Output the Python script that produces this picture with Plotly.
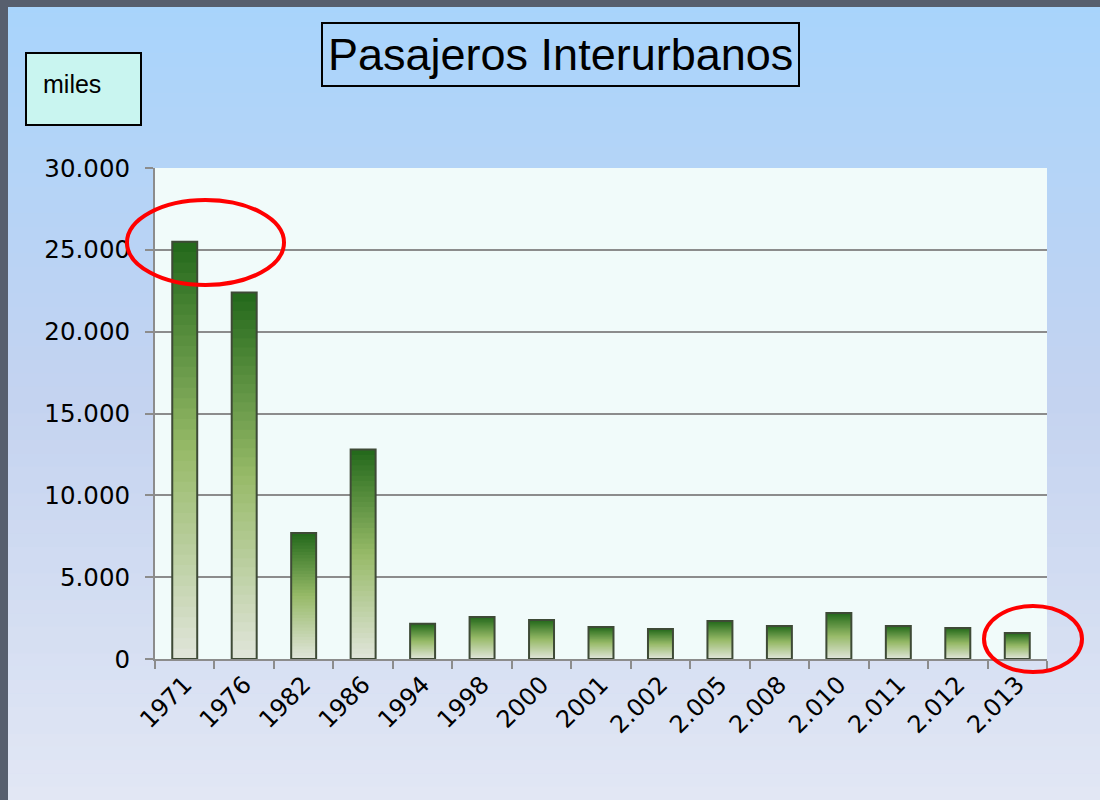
import plotly.graph_objects as go

years = ["1971", "1976", "1982", "1986", "1994", "1998", "2000", "2001",
         "2.002", "2.005", "2.008", "2.010", "2.011", "2.012", "2.013"]
passengers = [25500, 22400, 7700, 12800, 2150, 2570, 2380, 1960,
              1840, 2320, 2020, 2810, 2020, 1900, 1590]

title_text = "Pasajeros Interurbanos"
unit_text = "miles"


def lerp_hex(c1, c2, t):
    a = [int(c1[i:i + 2], 16) for i in (1, 3, 5)]
    b = [int(c2[i:i + 2], 16) for i in (1, 3, 5)]
    return "#" + "".join(f"{round(x + (y - x) * t):02x}" for x, y in zip(a, b))


def grad3(c_top, c_mid, c_bot, t):
    # t = 0 top, 1 bottom
    if t < 0.5:
        return lerp_hex(c_top, c_mid, t / 0.5)
    return lerp_hex(c_mid, c_bot, (t - 0.5) / 0.5)


fig = go.Figure()

# vertical gradient inside each bar: overlaid bars of decreasing fraction
# of each value (tallest drawn first), so no seams appear
N = 40
BAR_W = 0.42
for k in range(N):
    frac = (N - k) / N
    t = k / (N - 1)  # 0 = top colour, 1 = bottom colour
    col = grad3("#256a1c", "#97ba68", "#dfe4d8", t)
    fig.add_trace(go.Bar(
        x=years,
        y=[v * frac for v in passengers],
        width=BAR_W,
        marker=dict(color=col, line=dict(width=0)),
        showlegend=False, hoverinfo="skip",
    ))

# outline trace
fig.add_trace(go.Bar(
    x=years, y=passengers, width=BAR_W,
    marker=dict(color="rgba(0,0,0,0)", line=dict(color="#3e4a36", width=2)),
    showlegend=False,
))

L, R, T, B = 155, 53, 168, 141
PW, PH = 1100 - L - R, 800 - T - B


def px_x(p):
    return (p - L) / PW


def px_y(p):
    return (800 - B - p) / PH


shapes = []
# background gradient stripes
n_str = 60
for i in range(n_str):
    y0p = 800 * i / n_str
    y1p = 800 * (i + 1) / n_str + 0.5
    col = grad3("#a8d4fc", "#c4d3f0", "#e2e7f4", (i + 0.5) / n_str)
    shapes.append(dict(type="rect", xref="paper", yref="paper",
                       x0=px_x(-5), x1=px_x(1105), y0=px_y(y1p), y1=px_y(y0p),
                       fillcolor=col, line=dict(width=0), layer="below"))
# plot-area fill
shapes.append(dict(type="rect", xref="paper", yref="paper",
                   x0=0, x1=1, y0=0, y1=1,
                   fillcolor="#f1fbfa", line=dict(width=0), layer="below"))
# dark frame top/left
shapes.append(dict(type="rect", xref="paper", yref="paper",
                   x0=px_x(-5), x1=px_x(1105), y0=px_y(7), y1=px_y(-5),
                   fillcolor="#575f6e", line=dict(width=0), layer="below"))
shapes.append(dict(type="rect", xref="paper", yref="paper",
                   x0=px_x(-5), x1=px_x(8), y0=px_y(805), y1=px_y(-5),
                   fillcolor="#575f6e", line=dict(width=0), layer="below"))
# red highlight ellipses
shapes.append(dict(type="circle", xref="paper", yref="paper",
                   x0=px_x(127), x1=px_x(284), y0=px_y(285), y1=px_y(200),
                   line=dict(color="#ff0000", width=4)))
shapes.append(dict(type="circle", xref="paper", yref="paper",
                   x0=px_x(984), x1=px_x(1082), y0=px_y(672), y1=px_y(606),
                   line=dict(color="#ff0000", width=4)))

annotations = [
    dict(text=title_text, xref="paper", yref="paper",
         x=px_x(560.5), y=px_y(54.5), xanchor="center", yanchor="middle",
         showarrow=False, font=dict(family="Liberation Sans", size=45, color="#000"),
         bordercolor="#000", borderwidth=2, borderpad=5, bgcolor="rgba(0,0,0,0)"),
    dict(text=unit_text, xref="paper", yref="paper",
         x=px_x(25), y=px_y(52), xanchor="left", yanchor="top",
         showarrow=False, font=dict(family="Liberation Sans", size=25, color="#000"),
         width=81, height=38, align="left", valign="top",
         bordercolor="#000", borderwidth=2, borderpad=16, bgcolor="#c9f5f0"),
]

fig.update_layout(
    width=1100, height=800,
    margin=dict(l=L, r=R, t=T, b=B, pad=0),
    barmode="overlay",
    paper_bgcolor="#c4d3f0",
    plot_bgcolor="#f1fbfa",
    separators=",.",
    shapes=shapes,
    annotations=annotations,
    font=dict(family="DejaVu Sans", size=24, color="#000"),
)
fig.update_xaxes(
    type="category", tickangle=-45, tickson="boundaries",
    ticks="outside", ticklen=8, tickcolor="#8c8c8c", tickwidth=2,
    showline=True, linecolor="#8c8c8c", linewidth=2,
    showgrid=False, tickfont=dict(family="DejaVu Sans", size=24),
)
fig.update_yaxes(
    range=[0, 30000], dtick=5000, tickformat=",d",
    ticks="outside", ticklen=8, tickcolor="#8c8c8c", tickwidth=2,
    ticklabelstandoff=10,
    showline=True, linecolor="#8c8c8c", linewidth=2,
    showgrid=True, gridcolor="#8c8c8c", gridwidth=2,
    zeroline=False, tickfont=dict(family="DejaVu Sans", size=24.5),
)

fig.write_html(
    "out.html",
    config={"displayModeBar": False},
    post_script="document.body.style.margin='0';document.body.style.overflow='hidden';",
)
